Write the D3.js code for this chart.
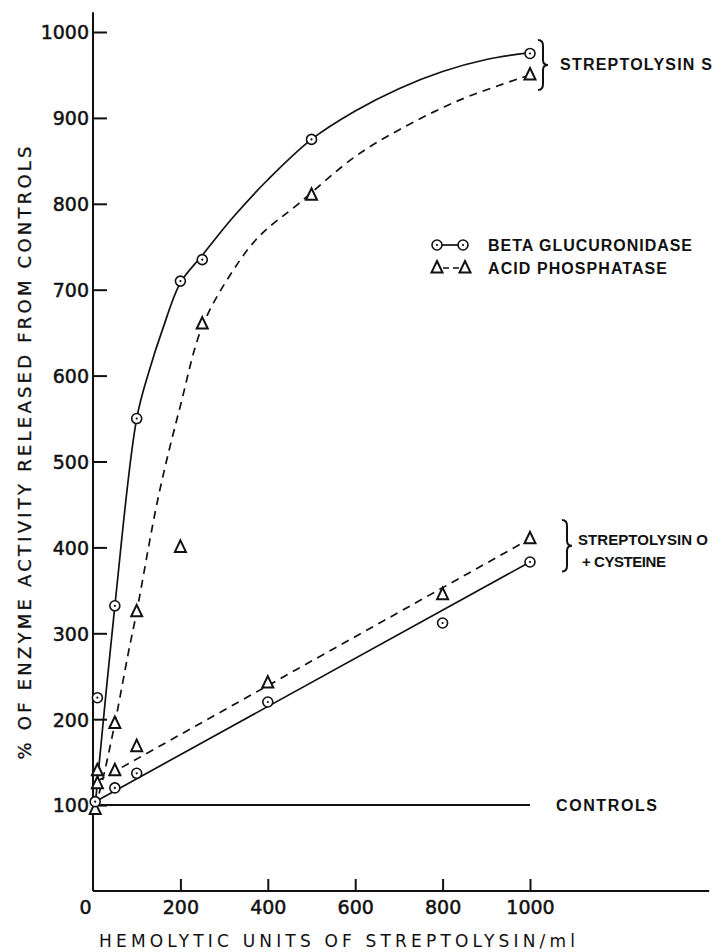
<!DOCTYPE html>
<head>
  <meta charset="utf-8">
  <script src="https://d3js.org/d3.v7.min.js"></script>
  <style>
    body { margin: 0; background: #fff; }
    .tick-lab { font: 19px "DejaVu Sans", sans-serif; fill: #111; stroke: #111; stroke-width: 0.5px; }
    .title { font: 18px "DejaVu Sans", sans-serif; fill: #111; stroke: #111; stroke-width: 0.3px; }
    .xtitle { font: 17px "DejaVu Sans", sans-serif; fill: #111; }
    .bold-lab { font: bold 16px "Liberation Sans", sans-serif; fill: #111; }
    .bold-sm { font: bold 15px "Liberation Sans", sans-serif; fill: #111; }
  </style>
</head>
<body>
<script>
// dose (hemolytic units/ml) and % of enzyme activity
var betaS = [[5,104],[10,225],[50,332],[100,550],[200,710],[250,735],[500,875],[1000,975]];
var acidS = [[5,95],[10,140],[50,195],[100,325],[200,400],[250,660],[500,810],[1000,950]];
var betaO = [[50,120],[100,137],[400,220],[800,312],[1000,383]];
var acidO = [[10,125],[50,140],[100,168],[400,242],[800,345],[1000,410]];

// the hand drawn streptolysin S curves, read along their length
var curveBetaS = [[5,100],[50,332],[100,550],[130,608],[160,655],[200,708],[250,740],
  [320,784],[400,828],[500,875],[600,908],[700,934],[800,954],[900,968],[1000,976]];
var curveAcidS = [[5,98],[20,125],[50,195],[80,275],[100,325],[150,460],[200,565],[250,657],
  [320,722],[380,762],[470,800],[600,855],[700,886],[840,921],[1000,950]];

// straight lines drawn through the streptolysin O points
var fitBetaO = [[5,104],[1000,383]];
var fitAcidO = [[10,128],[1000,410]];

var controlLevel = 100;
var xTicks = [0, 200, 400, 600, 800, 1000];
var yTicks = [100, 200, 300, 400, 500, 600, 700, 800, 900, 1000];

var width = 716, height = 952;

var svg = d3.select("body").append("svg")
  .attr("width", width)
  .attr("height", height);

var x = d3.scaleLinear().domain([0, 1000]).range([93, 530]);
var y = d3.scaleLinear().domain([0, 1000]).range([891, 32]);

// axes lines
svg.append("line")
  .attr("x1", x(0)).attr("x2", x(1410))
  .attr("y1", y(0)).attr("y2", y(0))
  .style("stroke", "#111").style("stroke-width", 2);
svg.append("line")
  .attr("x1", x(0)).attr("x2", x(0))
  .attr("y1", y(0)).attr("y2", y(1023))
  .style("stroke", "#111").style("stroke-width", 2);

var yAxis = svg.append("g")
  .attr("transform", "translate(" + x(0) + ",0)")
  .call(d3.axisLeft(y).tickValues(yTicks).tickFormat(d3.format("d"))
    .tickSizeInner(-14).tickSizeOuter(0).tickPadding(4));
yAxis.select(".domain").remove();
yAxis.selectAll(".tick line").style("stroke", "#111").style("stroke-width", 2);
yAxis.selectAll(".tick text").attr("class", "tick-lab").attr("dy", "0.36em");

var xAxis = svg.append("g")
  .attr("transform", "translate(0," + y(0) + ")")
  .call(d3.axisBottom(x).tickValues(xTicks).tickFormat(d3.format("d"))
    .tickSizeInner(-12).tickSizeOuter(0).tickPadding(10));
xAxis.select(".domain").remove();
xAxis.selectAll(".tick line").style("stroke", "#111").style("stroke-width", 2)
  .filter(function(d) { return d === 0; }).remove();
xAxis.selectAll(".tick text").attr("class", "tick-lab").attr("dy", "0.71em")
  .attr("dx", function(d) { return d === 0 ? -8 : 0; });
xAxis.attr("font-family", null).attr("font-size", null);
yAxis.attr("font-family", null).attr("font-size", null);

// axis titles
svg.append("text")
  .attr("class", "title")
  .attr("transform", "translate(31,453) rotate(-90)")
  .attr("text-anchor", "middle")
  .attr("textLength", 613).attr("lengthAdjust", "spacing")
  .text("% OF ENZYME ACTIVITY RELEASED FROM CONTROLS");

svg.append("text")
  .attr("class", "xtitle")
  .attr("x", 99).attr("y", 947)
  .attr("textLength", 476).attr("lengthAdjust", "spacing")
  .text("HEMOLYTIC UNITS OF STREPTOLYSIN/ml");

// controls line
svg.append("line")
  .attr("x1", x(0)).attr("x2", x(1000))
  .attr("y1", y(controlLevel)).attr("y2", y(controlLevel))
  .style("stroke", "#111").style("stroke-width", 2);
svg.append("text").attr("class", "bold-lab")
  .attr("x", 556).attr("y", y(controlLevel) + 6)
  .attr("textLength", 101).attr("lengthAdjust", "spacing")
  .text("CONTROLS");

var line = d3.line()
  .x(function(d) { return x(d[0]); })
  .y(function(d) { return y(d[1]); });

function drawLine(pts, dashed, curved) {
  svg.append("path")
    .datum(pts)
    .attr("d", line.curve(curved ? d3.curveCatmullRom.alpha(0.5) : d3.curveLinear))
    .style("fill", "none")
    .style("stroke", "#111")
    .style("stroke-width", 1.7)
    .style("stroke-dasharray", dashed ? "8,6" : null);
}

drawLine(curveBetaS, false, true);
drawLine(curveAcidS, true, true);
drawLine(fitBetaO, false, false);
drawLine(fitAcidO, true, false);

var tri = "M0,-7L5.5,4.5L-5.5,4.5Z";

function drawCircles(pts) {
  var g = svg.append("g").selectAll("g")
    .data(pts).enter().append("g")
    .attr("transform", function(d) { return "translate(" + x(d[0]) + "," + y(d[1]) + ")"; });
  g.append("circle").attr("r", 5)
    .style("fill", "#fff").style("stroke", "#111").style("stroke-width", 1.6);
  g.append("circle").attr("r", 1.1).style("fill", "#111");
}

function drawTriangles(pts) {
  svg.append("g").selectAll("path")
    .data(pts).enter().append("path")
    .attr("d", tri)
    .attr("transform", function(d) { return "translate(" + x(d[0]) + "," + y(d[1]) + ")"; })
    .style("fill", "#fff").style("stroke", "#111").style("stroke-width", 2);
}

drawTriangles(acidS);
drawTriangles(acidO);
drawCircles(betaS);
drawCircles(betaO);

// legend
var leg = svg.append("g");
leg.append("line").attr("x1", 437).attr("x2", 463).attr("y1", 245).attr("y2", 245)
  .style("stroke", "#111").style("stroke-width", 1.7);
drawLegendCircle(437, 245);
drawLegendCircle(463, 245);
leg.append("line").attr("x1", 443).attr("x2", 459).attr("y1", 268).attr("y2", 268)
  .style("stroke", "#111").style("stroke-width", 1.7).style("stroke-dasharray", "6,4");
[437, 465].forEach(function(cx) {
  leg.append("path").attr("d", tri).attr("transform", "translate(" + cx + ",268)")
    .style("fill", "#fff").style("stroke", "#111").style("stroke-width", 2);
});
function drawLegendCircle(cx, cy) {
  leg.append("circle").attr("cx", cx).attr("cy", cy).attr("r", 5)
    .style("fill", "#fff").style("stroke", "#111").style("stroke-width", 1.6);
  leg.append("circle").attr("cx", cx).attr("cy", cy).attr("r", 1.1).style("fill", "#111");
}
leg.append("text").attr("class", "bold-lab").attr("x", 488).attr("y", 251)
  .attr("textLength", 204).attr("lengthAdjust", "spacing").text("BETA GLUCURONIDASE");
leg.append("text").attr("class", "bold-lab").attr("x", 488).attr("y", 274)
  .attr("textLength", 179).attr("lengthAdjust", "spacing").text("ACID PHOSPHATASE");

// braces
function brace(xl, y0, y1) {
  var ym = (y0 + y1) / 2, w = 5;
  var p = d3.path();
  p.moveTo(xl, y0);
  p.quadraticCurveTo(xl + w, y0, xl + w, y0 + 6);
  p.lineTo(xl + w, ym - 5);
  p.quadraticCurveTo(xl + w, ym, xl + 2 * w, ym);
  p.quadraticCurveTo(xl + w, ym, xl + w, ym + 5);
  p.lineTo(xl + w, y1 - 6);
  p.quadraticCurveTo(xl + w, y1, xl, y1);
  svg.append("path").attr("d", p.toString())
    .style("fill", "none").style("stroke", "#111").style("stroke-width", 2);
}
brace(538, 40, 90);
brace(562, y(432), y(372));

svg.append("text").attr("class", "bold-lab").attr("x", 560).attr("y", 70)
  .attr("textLength", 152).attr("lengthAdjust", "spacing").text("STREPTOLYSIN S");
svg.append("text").attr("class", "bold-sm").attr("x", 578).attr("y", y(410) + 6)
  .attr("textLength", 130).attr("lengthAdjust", "spacing").text("STREPTOLYSIN O");
svg.append("text").attr("class", "bold-sm").attr("x", 582).attr("y", y(384) + 6)
  .attr("textLength", 84).attr("lengthAdjust", "spacing").text("+ CYSTEINE");
</script>
</body>
